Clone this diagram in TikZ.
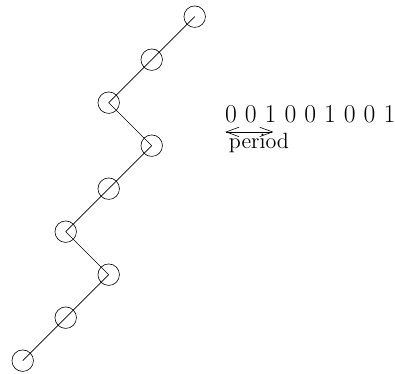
\documentclass[tikz,border=0pt]{standalone}
\usepackage{amsmath}
\usepackage{amssymb}
\usetikzlibrary{arrows.meta}

\begin{document}
\begin{tikzpicture}
			\tikzstyle{bead}=[draw, circle, minimum size=0.5cm, inner sep=0pt]
			\tikzstyle{period arrow}=[{Straight Barb[length=3mm,width=2.2mm]}-{Straight Barb[length=3mm,width=2.2mm]}]
			\useasboundingbox (-0.528,-0.309) rectangle (8.658,8.388);
			
			% the chain
			\node[bead] (b1) at (0,0) {};
			\node[bead] (b2) at (1,1) {};
			\node[bead] (b3) at (2,2) {};
			\node[bead] (b4) at (1,3) {};
			\node[bead] (b5) at (2,4) {};
			\node[bead] (b6) at (3,5) {};
			\node[bead] (b7) at (2,6) {};
			\node[bead] (b8) at (3,7) {};
			\node[bead] (b9) at (4,8) {};
			\foreach \i/\j in {1/2,2/3,3/4,4/5,5/6,6/7,7/8,8/9}
				\draw (b\i.center) -- (b\j.center);
			
			% the sequence
			\node[anchor=base west, inner sep=0pt, font=\fontsize{17}{20}\selectfont] (bits) at (4.70,5.55) {\spaceskip=5.3pt 0 0 1 0 0 1 0 0 1};
			\coordinate (pl) at (4.71,5.32);
			\coordinate (pr) at (5.83,5.32);
			\draw[period arrow] (pl) -- (pr);
			\node[anchor=base west, inner sep=0pt, font=\fontsize{14.6}{17}\selectfont] (per) at (4.79,4.93) {period};
\end{tikzpicture}
\end{document}
